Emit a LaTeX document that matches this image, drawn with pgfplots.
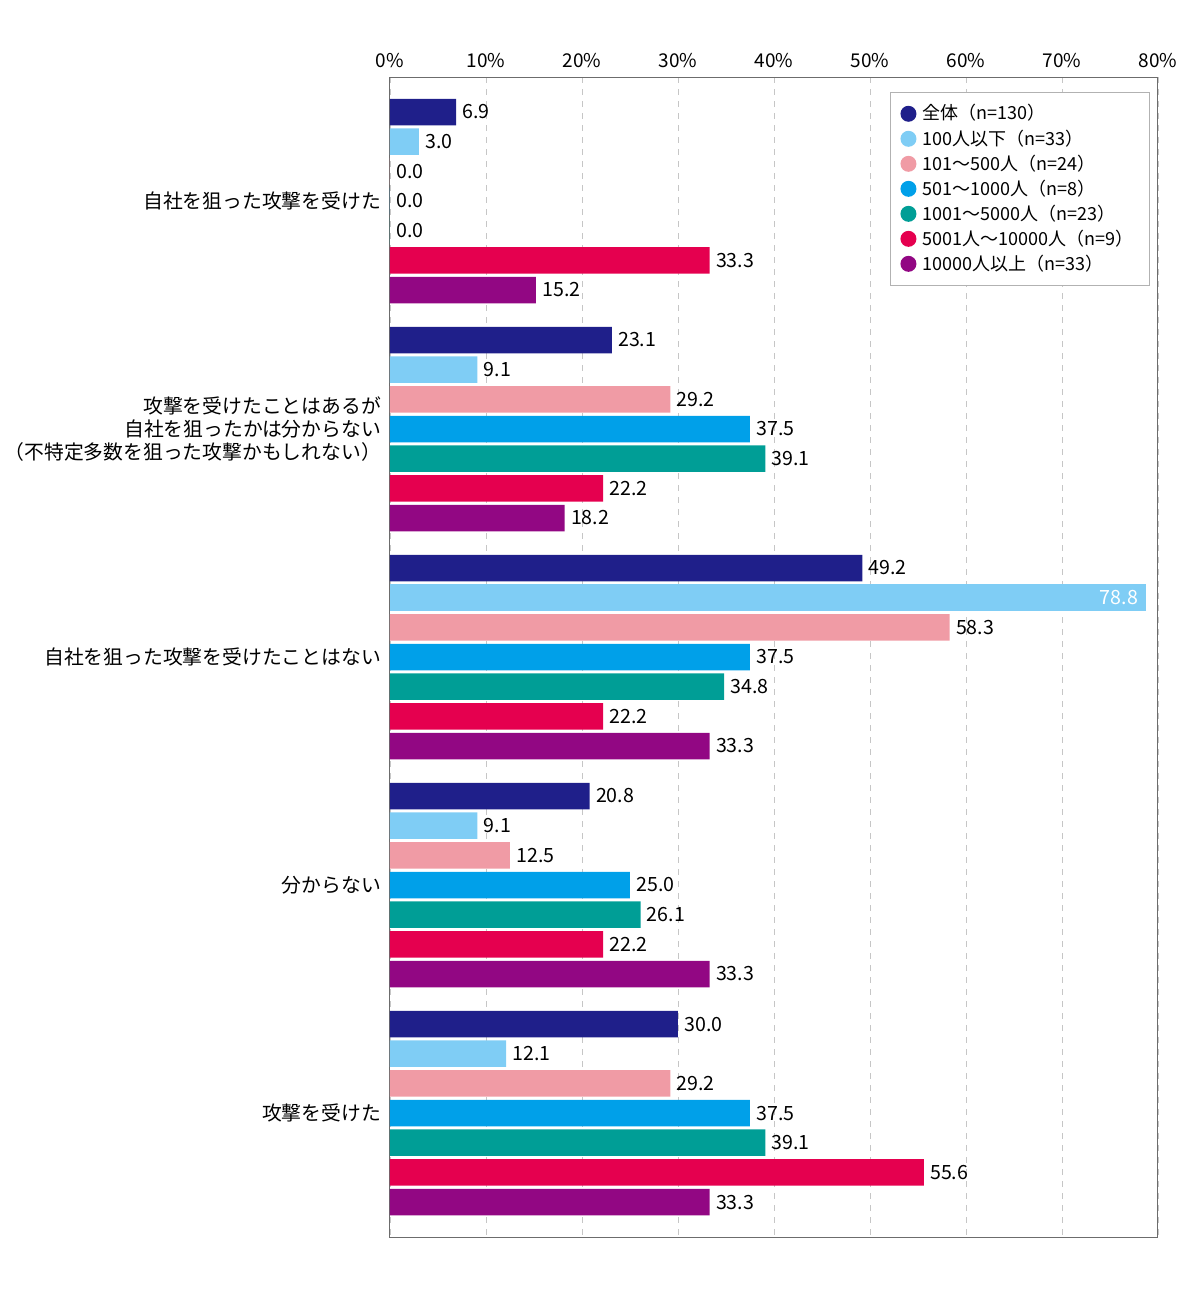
\documentclass[border=0pt]{standalone}
\usepackage{fontspec}
\setmainfont{Noto Sans CJK JP}
\usepackage{pgfplots}
\pgfplotsset{compat=1.18}
\definecolor{c1}{HTML}{1F1F8A}
\definecolor{c2}{HTML}{7FCDF5}
\definecolor{c3}{HTML}{F09BA5}
\definecolor{c4}{HTML}{00A0E9}
\definecolor{c5}{HTML}{009E96}
\definecolor{c6}{HTML}{E5004F}
\definecolor{c7}{HTML}{920783}
\begin{document}
\begin{tikzpicture}
\pgfplotsset{dot/.style={legend image code/.code={\fill[##1,draw=none] (0.12cm,0cm) circle (4pt);}}}
\begin{axis}[name=ax, scale only axis, width=384pt, height=580pt,
  xmin=0, xmax=80, ymin=77, ymax=1237, y dir=reverse,
  xbar, bar width=26.5, bar shift=0pt,
  xtick={0,10,...,80}, xticklabel={\pgfmathprintnumber{\tick}\%},
  xticklabel pos=right,
  xticklabel style={font=\fontsize{9.5}{10}\selectfont, yshift=1pt},
  /pgf/number format/assume math mode=true,
  major tick length=0pt,
  xmajorgrids, grid style={dashed, gray!45, line width=0.4pt},
  axis line style={gray!85!black, line width=0.5pt},
  ytick={201,429,657,885,1113},
  yticklabels={自社を狙った攻撃を受けた,
    {攻撃を受けたことはあるが\\自社を狙ったかは分からない\\（不特定多数を狙った攻撃かもしれない）},
    自社を狙った攻撃を受けたことはない, 分からない, 攻撃を受けた},
  yticklabel style={align=right, font=\fontsize{9.9}{11.5}\selectfont, xshift=-1pt},
  nodes near coords={\pgfmathprintnumber[fixed,fixed zerofill,precision=1]{\pgfplotspointmeta}},
  nodes near coords align=horizontal,
  every node near coord/.append style={font=\fontsize{9.8}{10}\selectfont, text=black, inner sep=3pt},
  legend style={at={(0.651,0.987)}, anchor=north west, draw=gray!60, line width=0.5pt,
    font=\fontsize{9}{10}\selectfont, row sep=1.3pt, inner xsep=5pt, inner ysep=5pt,
    nodes={inner ysep=1pt, inner xsep=3pt}},
  legend cell align=left,
]
\addplot[fill=c1, draw=none, dot] coordinates {(6.9,112) (23.1,340) (49.2,568) (20.8,796) (30.0,1024)};
\addlegendentry{全体（n=130）}
\addplot[fill=c2, draw=none, dot] coordinates {(3.0,141.67) (9.1,369.67) (9.1,825.67) (12.1,1053.67)};
\addlegendentry{100人以下（n=33）}
\addplot[fill=c3, draw=none, dot] coordinates {(0.0,171.33) (29.2,399.33) (58.3,627.33) (12.5,855.33) (29.2,1083.33)};
\addlegendentry{101〜500人（n=24）}
\addplot[fill=c4, draw=none, dot] coordinates {(0.0,201) (37.5,429) (37.5,657) (25.0,885) (37.5,1113)};
\addlegendentry{501〜1000人（n=8）}
\addplot[fill=c5, draw=none, dot] coordinates {(0.0,230.67) (39.1,458.67) (34.8,686.67) (26.1,914.67) (39.1,1142.67)};
\addlegendentry{1001〜5000人（n=23）}
\addplot[fill=c6, draw=none, dot] coordinates {(33.3,260.33) (22.2,488.33) (22.2,716.33) (22.2,944.33) (55.6,1172.33)};
\addlegendentry{5001人〜10000人（n=9）}
\addplot[fill=c7, draw=none, dot] coordinates {(15.2,290) (18.2,518) (33.3,746) (33.3,974) (33.3,1202)};
\addlegendentry{10000人以上（n=33）}
\addplot[fill=c2, draw=none, forget plot, every node near coord/.append style={anchor=east, text=white, inner sep=4pt}] coordinates {(78.8,597.67)};
\end{axis}
\pgfresetboundingbox
\path[use as bounding box] ([xshift=-195pt,yshift=-27.5pt]ax.south west) rectangle ([xshift=21pt,yshift=38.5pt]ax.north east);
\end{tikzpicture}
\end{document}
